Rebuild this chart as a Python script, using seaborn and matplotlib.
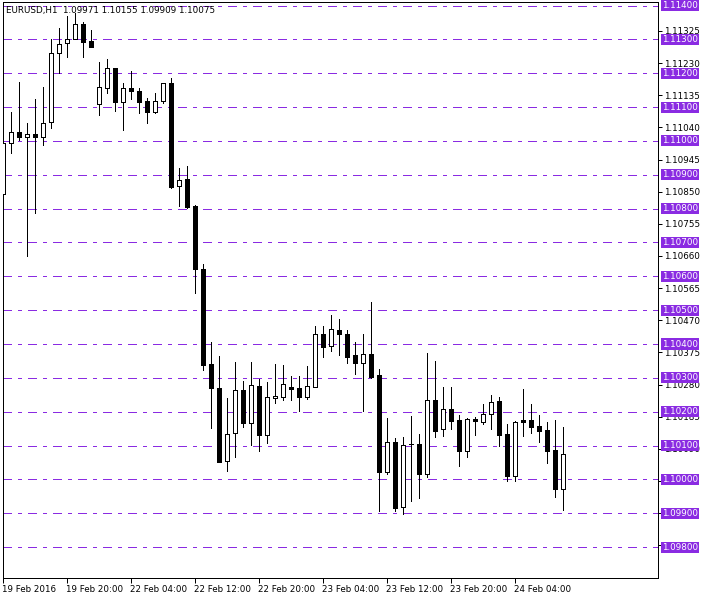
import matplotlib
matplotlib.use("Agg")
import matplotlib.pyplot as plt
import numpy as np
import pandas as pd
import seaborn as sns

# ---------------- data ----------------
header_text = "EURUSD,H1  1.09971 1.10155 1.09909 1.10075"

opens = [1.10843, 1.10993, 1.11025, 1.11011, 1.11020, 1.11012, 1.11055, 1.11259, 1.11288, 1.11302,
         1.11344, 1.11294, 1.11108, 1.11155, 1.11214, 1.11116, 1.11155, 1.11147, 1.11119, 1.11086,
         1.11119, 1.11170, 1.10868, 1.10887, 1.10808, 1.10622, 1.10341, 1.10269, 1.10055, 1.10136,
         1.10264, 1.10166, 1.10276, 1.10130, 1.10240, 1.10243, 1.10272, 1.10269, 1.10244, 1.10274,
         1.10429, 1.10394, 1.10440, 1.10429, 1.10367, 1.10343, 1.10370, 1.10308, 1.10023, 1.10110,
         1.09918, 1.10105, 1.10104, 1.10015, 1.10235, 1.10148, 1.10208, 1.10175, 1.10085, 1.10178,
         1.10170, 1.10192, 1.10232, 1.10134, 1.10011, 1.10175, 1.10175, 1.10158, 1.10146, 1.10087,
         1.09971]
highs = [1.10995, 1.11085, 1.11173, 1.11052, 1.11124, 1.11158, 1.11300, 1.11333, 1.11369, 1.11378,
         1.11351, 1.11328, 1.11234, 1.11241, 1.11216, 1.11170, 1.11206, 1.11157, 1.11126, 1.11141,
         1.11172, 1.11185, 1.10919, 1.10926, 1.10810, 1.10635, 1.10405, 1.10365, 1.10240, 1.10348,
         1.10291, 1.10348, 1.10296, 1.10288, 1.10341, 1.10338, 1.10305, 1.10305, 1.10335, 1.10453,
         1.10453, 1.10486, 1.10474, 1.10441, 1.10406, 1.10430, 1.10524, 1.10325, 1.10182, 1.10121,
         1.10126, 1.10187, 1.10134, 1.10374, 1.10351, 1.10273, 1.10273, 1.10190, 1.10181, 1.10183,
         1.10223, 1.10249, 1.10244, 1.10164, 1.10173, 1.10267, 1.10223, 1.10190, 1.10170, 1.10175,
         1.10155]
lows = [1.10840, 1.10965, 1.11003, 1.10661, 1.10786, 1.10988, 1.11037, 1.11202, 1.11249, 1.11300,
        1.11247, 1.11276, 1.11077, 1.11141, 1.11089, 1.11032, 1.11124, 1.11083, 1.11052, 1.11082,
        1.11111, 1.10862, 1.10809, 1.10802, 1.10552, 1.10323, 1.10151, 1.10050, 1.10026, 1.10067,
        1.10156, 1.10102, 1.10085, 1.10108, 1.10227, 1.10235, 1.10235, 1.10202, 1.10238, 1.10272,
        1.10362, 1.10379, 1.10368, 1.10345, 1.10310, 1.10202, 1.10299, 1.09908, 1.10015, 1.09908,
        1.09897, 1.09937, 1.09946, 1.10008, 1.10126, 1.10129, 1.10148, 1.10040, 1.10067, 1.10131,
        1.10164, 1.10149, 1.10100, 1.09996, 1.09996, 1.10129, 1.10138, 1.10111, 1.10048, 1.09949,
        1.09909]
closes = [1.10993, 1.11025, 1.11012, 1.11020, 1.11012, 1.11052, 1.11259, 1.11285, 1.11302, 1.11344,
          1.11293, 1.11277, 1.11158, 1.11214, 1.11116, 1.11155, 1.11148, 1.11116, 1.11086, 1.11118,
          1.11170, 1.10865, 1.10884, 1.10804, 1.10621, 1.10338, 1.10271, 1.10052, 1.10133, 1.10264,
          1.10168, 1.10278, 1.10132, 1.10243, 1.10246, 1.10281, 1.10268, 1.10243, 1.10275, 1.10429,
          1.10390, 1.10443, 1.10429, 1.10362, 1.10343, 1.10370, 1.10303, 1.10023, 1.10110, 1.09916,
          1.10101, 1.10105, 1.10015, 1.10235, 1.10144, 1.10208, 1.10173, 1.10085, 1.10178, 1.10173,
          1.10192, 1.10228, 1.10132, 1.10011, 1.10169, 1.10170, 1.10156, 1.10144, 1.10085, 1.09971,
          1.10075]

date_tick_bars = [0, 8, 16, 24, 32, 40, 48, 56, 64]
date_tick_labels = ["19 Feb 2016", "19 Feb 20:00", "22 Feb 04:00", "22 Feb 12:00", "22 Feb 20:00",
                    "23 Feb 04:00", "23 Feb 12:00", "23 Feb 20:00", "24 Feb 04:00"]

price_ticks = [1.09805, 1.09900, 1.09995, 1.10090, 1.10185, 1.10280, 1.10375, 1.10470, 1.10565,
               1.10660, 1.10755, 1.10850, 1.10945, 1.11040, 1.11135, 1.11230, 1.11325]
# labels completely covered by the level boxes in the reference are left blank
price_tick_labels = ["", "", "", "1.10090", "1.10185", "1.10280", "1.10375", "1.10470", "1.10565",
                     "1.10660", "1.10755", "1.10850", "1.10945", "1.11040", "1.11135", "1.11230",
                     "1.11325"]

level_prices = [1.09800, 1.09900, 1.10000, 1.10100, 1.10200, 1.10300, 1.10400, 1.10500, 1.10600,
                1.10700, 1.10800, 1.10900, 1.11000, 1.11100, 1.11200, 1.11300, 1.11400]

# ---------------- figure ----------------
sns.set_theme(style="white")
plt.rcParams['font.family'] = ['DejaVu Sans']

W, H = 709, 597
fig = plt.figure(figsize=(W / 100, H / 100), dpi=100)
fig.patch.set_facecolor("white")
ax = fig.add_axes([2.5 / W, 19.5 / H, 655 / W, 575.5 / H])
ax.set_facecolor("white")

df = pd.DataFrame({"open": opens, "high": highs, "low": lows, "close": closes})
df["bar"] = np.arange(len(df))
df["bottom"] = df[["open", "close"]].min(axis=1)
df["height"] = (df["close"] - df["open"]).abs()
df["bull"] = df["close"] > df["open"]

PX = 0.72  # one pixel in points
LEVEL_COLOR = "#8a2be2"

# horizontal level lines (behind candles)
for p in level_prices:
    ax.axhline(p, color=LEVEL_COLOR, lw=PX, linestyle=(0, (9, 6, 3, 6)), zorder=1,
               antialiased=False, snap=True)

# wicks
ax.vlines(df["bar"], df["low"], df["high"], color="black", lw=PX, zorder=2,
          antialiased=False, snap=True)

# bodies
face = np.where(df["bull"], "white", "black")
ax.bar(df["bar"], df["height"], bottom=df["bottom"], width=0.5, color=face,
       edgecolor="black", linewidth=PX, zorder=3, antialiased=False, snap=True)

ax.set_xlim(0, 81.875)
ax.set_ylim(1.097102, 1.1141034)

# axes frame
for s in ax.spines.values():
    s.set_visible(True)
    s.set_color("black")
    s.set_linewidth(PX)

# right price axis
ax.yaxis.tick_right()
ax.set_yticks(price_ticks)
ax.set_yticklabels(price_tick_labels)
ax.tick_params(axis="y", which="both", right=True, left=False, direction="out", length=3,
               width=PX, color="black", pad=1.5, labelsize=6.3, labelcolor="black")

# bottom time axis
ax.set_xticks(date_tick_bars)
ax.set_xticklabels(date_tick_labels)
ax.tick_params(axis="x", which="both", bottom=True, top=False, direction="out", length=3.6,
               width=PX, color="black", pad=1.5, labelsize=6.3, labelcolor="black")
for lbl in ax.get_xticklabels():
    lbl.set_horizontalalignment("left")

ax.set_xlabel("")
ax.set_ylabel("")
ax.grid(False)

# purple price labels for the level lines
for p in level_prices:
    ax.annotate(f"{p:.5f}", xy=(1, p), xycoords=("axes fraction", "data"),
                xytext=(3.0, 0), textcoords="offset points", ha="left", va="center",
                fontsize=6.3, color="white", zorder=5, annotation_clip=False,
                bbox=dict(boxstyle="square,pad=0.12", fc=LEVEL_COLOR, ec="none"))

# header
fig.text(6 / W, 1 - 10 / H, header_text, ha="left", va="center", fontsize=6.3, color="black")

fig.savefig("out.png", dpi=100, facecolor="white")
